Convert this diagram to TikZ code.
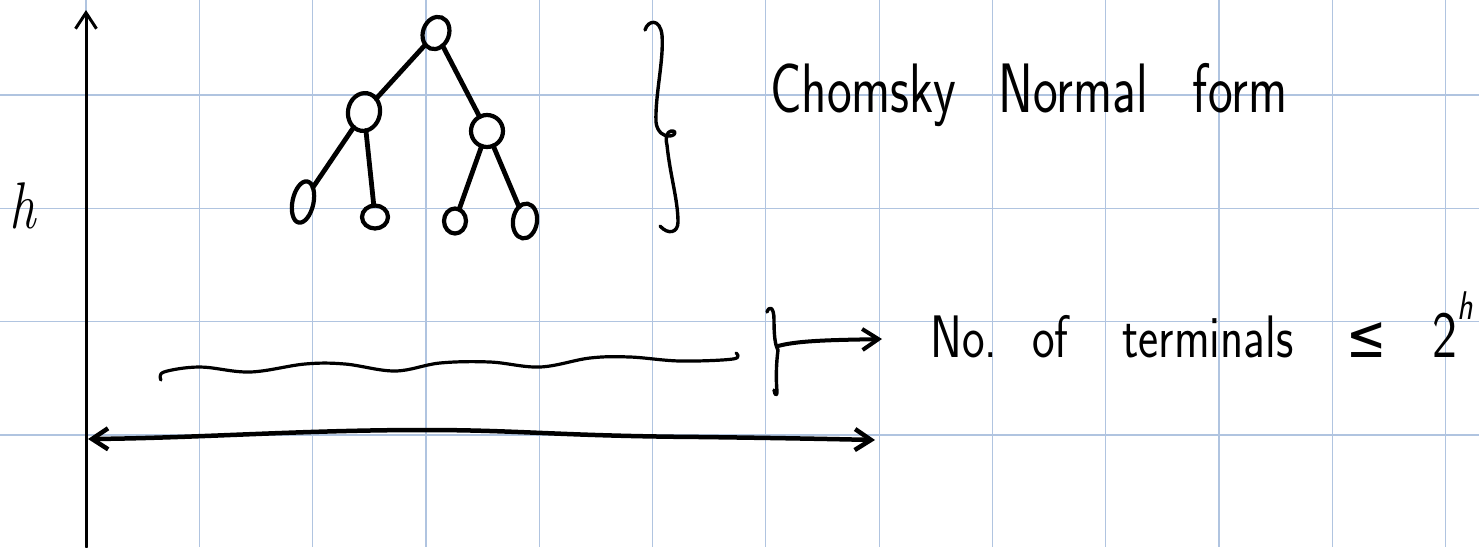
\documentclass[tikz,border=0pt]{standalone}
\usepackage{fontspec}
\usepackage{graphicx}
\newfontfamily\symfont{DejaVu Sans}
\usetikzlibrary{arrows.meta,shapes.geometric}
\definecolor{gridblue}{RGB}{176,196,224}
\tikzset{
  gridline/.style={draw=gridblue, line width=1.2pt},
  ink/.style={draw=black, line width=3.4pt, line cap=round, line join=round},
  axisline/.style={ink, line width=3pt},
  treeedge/.style={ink, line width=4.8pt},
  treenode/.style={ellipse, draw=black, line width=4.2pt, inner sep=0pt, outer sep=0pt},
  handtext/.style={inner sep=0pt, anchor=base west},
}
\begin{document}
\begin{tikzpicture}[x=1pt, y=-1pt, >={Straight Barb[length=16pt,width=21pt]}]
\fill[white] (0,0) rectangle (1479,547);
\useasboundingbox (0,0) rectangle (1479,547);
% grid
\foreach \k in {0,...,12} \draw[gridline] ({86+113.3*\k},0) -- ({86+113.3*\k},547);
\foreach \k in {0,...,3} \draw[gridline] (0,{95+113.3*\k}) -- (1479,{95+113.3*\k});
% vertical axis
\coordinate (axbot) at (86,547);
\coordinate (axtop) at (86,10);
\draw[axisline, ->] (axbot) -- (axtop);
% tree
\node[treenode, minimum width=26pt, minimum height=33pt, rotate=-20] (root) at (436,33) {};
\node[treenode, minimum width=32pt, minimum height=38pt, rotate=-10] (lc) at (364,112) {};
\node[treenode, minimum width=32pt, minimum height=32pt] (rc) at (487,131) {};
\node[treenode, minimum width=21pt, minimum height=42pt, rotate=-12] (l1) at (303,202) {};
\node[treenode, minimum width=26pt, minimum height=23pt] (l2) at (375,217) {};
\node[treenode, minimum width=22pt, minimum height=25pt] (l3) at (455,221) {};
\node[treenode, minimum width=24pt, minimum height=35pt, rotate=-8] (l4) at (525,221) {};
\draw[treeedge] (root) -- (lc);
\draw[treeedge] (root) -- (rc);
\draw[treeedge] (lc) -- (l1);
\draw[treeedge] (lc) -- (l2);
\draw[treeedge] (rc) -- (l3);
\draw[treeedge] (rc) -- (l4);
% curly brace
\draw[ink] (645,30) .. controls (648,20) and (660,18) .. (662,35)
  .. controls (664,60) and (655,95) .. (656,122)
  .. controls (657,132) and (664,137) .. (670,136)
  .. controls (677,135) and (676,130) .. (671,131)
  .. controls (667,132) and (665,137) .. (667,145)
  .. controls (670,175) and (678,200) .. (678,222)
  .. controls (678,233) and (668,235) .. (660,226);
% wavy line
\draw[ink, line width=3.2pt] plot[smooth, tension=0.6] coordinates
  {(161,380) (164,372) (200,367) (250,372) (305,364) (345,364) (395,371) (440,363)
   (490,362) (540,367) (590,358) (630,357) (680,361) (733,359) (736,353)};
% bracket and arrow
\coordinate (brk) at (778,346);
\coordinate (brkarrow) at (882,339);
\draw[ink] (767,312) .. controls (769,306) and (774,306) .. (774,320)
  .. controls (774,335) and (775,345) .. (778,350)
  .. controls (776,365) and (776,380) .. (777,392)
  .. controls (777,396) and (775,396) .. (774,390);
\draw[ink, line width=4pt, ->] (brk) .. controls (800,340) and (840,340) .. (brkarrow);
% double arrow
\coordinate (dleft) at (88,439);
\coordinate (dright) at (875,440);
\draw[ink, line width=4.5pt, <->] (dleft) .. controls (200,438) and (300,430) .. (425,430)
  .. controls (520,430) and (560,436) .. (700,437) .. controls (780,438) and (830,439) .. (dright);
% texts
\node[handtext, font=\itshape\fontsize{66}{66}\selectfont] (hlabel) at (9,228) {\scalebox{0.8}[1]{h}};
\node[handtext, font=\sffamily\fontsize{70}{70}\selectfont] (cnf) at (770,112)
  {\scalebox{0.75}[1]{Chomsky\hspace{56pt}Normal\hspace{60pt}form}};
\node[handtext, font=\sffamily\fontsize{60}{60}\selectfont] (term) at (930,357)
  {\scalebox{0.8}[1]{No.\hspace{44pt}of\hspace{67pt}terminals\hspace{66pt}{\symfont ≤}\hspace{58pt}{\fontsize{66}{66}\selectfont 2}\raisebox{38pt}{\fontsize{40}{40}\selectfont\itshape h}}};
\end{tikzpicture}
\end{document}
